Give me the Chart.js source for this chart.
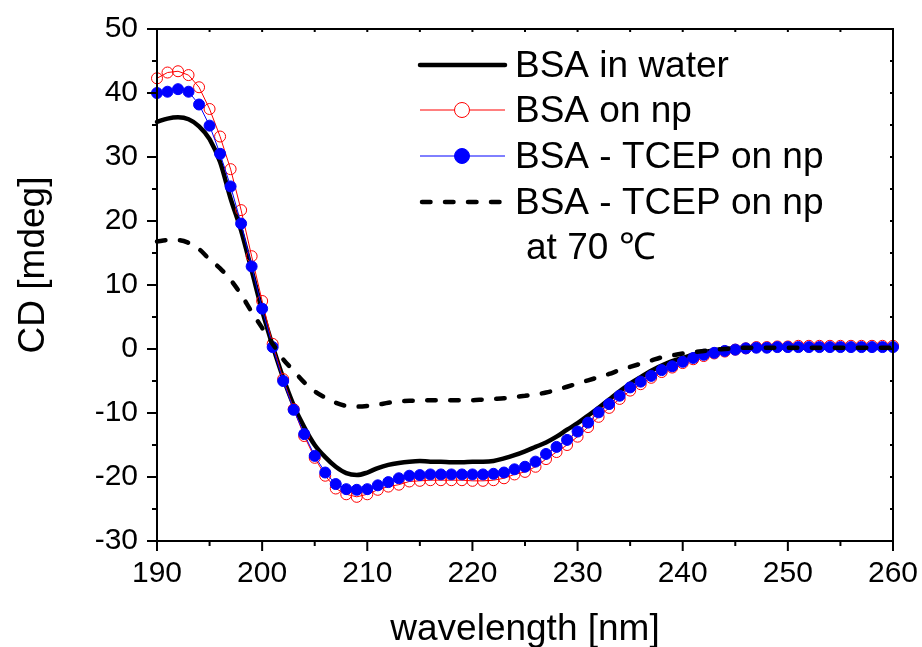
<!DOCTYPE html>
<html>
<head>
<meta charset="utf-8">
<script src="https://cdn.jsdelivr.net/npm/chart.js@4.4.0/dist/chart.umd.min.js"></script>
<style>
  body { margin: 0; background: #fff; }
  canvas { display: block; }
</style>
</head>
<body>
<canvas id="chart" width="922" height="647"></canvas>
<script>
// wavelength in nm, one reading per nm
const wavelength = [];
for (let w = 190; w <= 260; w++) wavelength.push(w);

const waterCD = [35.5, 36.0, 36.2, 35.9, 34.8, 32.8, 29.2, 23.5, 18.5, 12.3,
  6.0, 0.5, -4.5, -8.8, -12.2, -15.0, -16.9, -18.4, -19.4, -19.7,
  -19.3, -18.6, -18.1, -17.8, -17.6, -17.5, -17.6, -17.6, -17.7, -17.7,
  -17.6, -17.6, -17.5, -17.1, -16.6, -16.0, -15.3, -14.6, -13.7, -12.6,
  -11.6, -10.4, -9.2, -7.9, -6.6, -5.4, -4.4, -3.4, -2.6, -1.9,
  -1.4, -0.9, -0.5, -0.2, 0.0, 0.1, 0.2, 0.2, 0.2, 0.2,
  0.2, 0.2, 0.2, 0.2, 0.2, 0.2, 0.2, 0.2, 0.2, 0.2, 0.2];

const npCD = [42.3, 43.2, 43.4, 42.8, 40.9, 37.5, 33.2, 28.1, 21.7, 14.5,
  7.5, 0.8, -4.7, -9.4, -13.6, -17.0, -19.8, -21.8, -22.7, -23.1,
  -22.7, -22.0, -21.5, -21.2, -20.7, -20.6, -20.5, -20.5, -20.5, -20.5,
  -20.6, -20.6, -20.5, -20.2, -19.6, -19.2, -18.4, -17.2, -16.1, -15.0,
  -13.7, -12.2, -10.6, -9.2, -7.8, -6.5, -5.5, -4.5, -3.6, -2.9,
  -2.2, -1.6, -1.1, -0.7, -0.4, -0.1, 0.1, 0.3, 0.3, 0.4,
  0.4, 0.5, 0.5, 0.5, 0.5, 0.5, 0.5, 0.5, 0.5, 0.5, 0.5];

const tcepCD = [40.0, 40.2, 40.6, 40.2, 38.2, 34.9, 30.5, 25.4, 19.6, 12.9,
  6.3, 0.3, -5.0, -9.5, -13.3, -16.7, -19.3, -21.1, -21.9, -22.0,
  -21.9, -21.3, -20.8, -20.2, -19.8, -19.7, -19.6, -19.6, -19.6, -19.6,
  -19.6, -19.6, -19.5, -19.3, -18.8, -18.4, -17.6, -16.4, -15.3, -14.2,
  -12.9, -11.5, -9.9, -8.6, -7.3, -6.0, -5.1, -4.2, -3.3, -2.7,
  -2.0, -1.4, -0.9, -0.6, -0.3, -0.1, 0.1, 0.2, 0.2, 0.3,
  0.3, 0.3, 0.3, 0.3, 0.3, 0.3, 0.3, 0.3, 0.3, 0.3, 0.3];

const hotCD = [16.8, 17.0, 17.0, 16.6, 15.6, 14.0, 12.6, 10.8, 8.5, 5.8,
  3.3, 0.8, -1.6, -3.4, -5.2, -6.6, -7.6, -8.4, -8.9, -9.0,
  -8.9, -8.7, -8.4, -8.2, -8.1, -8.1, -8.0, -8.0, -8.0, -8.0,
  -8.0, -7.9, -7.8, -7.7, -7.5, -7.3, -7.1, -6.8, -6.4, -5.9,
  -5.4, -4.9, -4.4, -3.9, -3.3, -2.8, -2.3, -1.8, -1.3, -1.0,
  -0.7, -0.5, -0.3, -0.1, 0.0, 0.1, 0.2, 0.2, 0.2, 0.2,
  0.2, 0.2, 0.2, 0.2, 0.2, 0.2, 0.2, 0.2, 0.2, 0.2, 0.2];

const seriesNames = ['BSA in water', 'BSA on np', 'BSA - TCEP on np', 'BSA - TCEP on np'];
const xTicks = [190, 200, 210, 220, 230, 240, 250, 260];
const yTicks = [-30, -20, -10, 0, 10, 20, 30, 40, 50];

const FONT = "'Liberation Sans', Arial, sans-serif";

function pts(arr) {
  return wavelength.map((w, i) => ({ x: w, y: arr[i] }));
}

function noPad(s) {
  s.paddingTop = 0; s.paddingBottom = 0; s.paddingLeft = 0; s.paddingRight = 0;
}

// frame, minor/major ticks, axis titles and the legend box
const decor = {
  id: 'decor',
  afterDraw(chart) {
    const ctx = chart.ctx;
    const a = chart.chartArea;
    const xs = chart.scales.x, ys = chart.scales.y;
    ctx.save();
    ctx.strokeStyle = '#000';
    ctx.lineWidth = 2;
    ctx.strokeRect(a.left, a.top, a.right - a.left, a.bottom - a.top);

    ctx.beginPath();
    for (let v = xs.min; v <= xs.max; v += 5) {
      const px = xs.getPixelForValue(v);
      const len = v % 10 === 0 ? 10 : 5;
      ctx.moveTo(px, a.bottom); ctx.lineTo(px, a.bottom + len);
      ctx.moveTo(px, a.top); ctx.lineTo(px, a.top + 3);
    }
    for (let v = ys.min; v <= ys.max; v += 5) {
      const py = ys.getPixelForValue(v);
      const len = v % 10 === 0 ? 10 : 5;
      ctx.moveTo(a.left, py); ctx.lineTo(a.left - len, py);
      ctx.moveTo(a.right, py); ctx.lineTo(a.right - 3, py);
    }
    ctx.stroke();

    ctx.fillStyle = '#000';
    ctx.font = '37px ' + FONT;
    ctx.textAlign = 'center';
    ctx.textBaseline = 'alphabetic';
    ctx.fillText('wavelength [nm]', (a.left + a.right) / 2, 640);
    ctx.save();
    ctx.translate(44, 265);
    ctx.rotate(-Math.PI / 2);
    ctx.fillText('CD [mdeg]', 0, 0);
    ctx.restore();

    // legend
    const ds = chart.data.datasets;
    const rows = [65, 110, 156, 202];
    ctx.textAlign = 'left';
    ctx.textBaseline = 'middle';
    ds.forEach((d, i) => {
      const y = rows[i];
      ctx.save();
      ctx.strokeStyle = d.borderColor;
      ctx.lineWidth = d.borderWidth;
      ctx.lineCap = d.borderCapStyle || 'butt';
      ctx.setLineDash(d.borderDash || []);
      ctx.beginPath();
      ctx.moveTo(i === 3 ? 422 : 420, y);
      ctx.lineTo(i === 3 ? 503 : 505, y);
      ctx.stroke();
      ctx.restore();
      if (d.pointRadius > 0) {
        ctx.beginPath();
        ctx.arc(462, y, 7.5, 0, Math.PI * 2);
        ctx.fillStyle = d.pointBackgroundColor === 'transparent' ? '#fff' : d.pointBackgroundColor;
        ctx.fill();
        ctx.lineWidth = 1;
        ctx.strokeStyle = d.pointBorderColor;
        ctx.stroke();
      }
      ctx.fillStyle = '#000';
      ctx.fillText(d.label, 515, y + 2);
    });
    ctx.fillText('at 70 \u2103', 526, 249);
    ctx.restore();
  }
};

new Chart(document.getElementById('chart'), {
  type: 'line',
  data: {
    datasets: [
      {
        label: seriesNames[0], data: pts(waterCD), order: 4,
        borderColor: '#000', borderWidth: 4.5, pointRadius: 0,
        cubicInterpolationMode: 'monotone', borderCapStyle: 'round', clip: false
      },
      {
        label: seriesNames[1], data: pts(npCD), order: 3,
        borderColor: '#ff0000', borderWidth: 1, pointRadius: 5.5,
        pointBackgroundColor: 'transparent', pointBorderColor: '#ff0000', pointBorderWidth: 1,
        clip: false
      },
      {
        label: seriesNames[2], data: pts(tcepCD), order: 2,
        borderColor: '#0000ff', borderWidth: 1, pointRadius: 5.5,
        pointBackgroundColor: '#0000ff', pointBorderColor: '#0000ff', pointBorderWidth: 1,
        clip: false
      },
      {
        label: seriesNames[3], data: pts(hotCD), order: 1,
        borderColor: '#000', borderWidth: 4.5, pointRadius: 0,
        borderDash: [8.5, 14.5], borderCapStyle: 'round',
        cubicInterpolationMode: 'monotone', clip: false
      }
    ]
  },
  options: {
    responsive: false,
    devicePixelRatio: 1,
    animation: false,
    layout: { padding: { top: 29, right: 29, left: 0, bottom: 0 } },
    plugins: { legend: { display: false }, tooltip: { enabled: false } },
    scales: {
      x: {
        type: 'linear', min: 190, max: 260,
        afterFit: s => { s.height = 106; noPad(s); },
        afterBuildTicks: s => { s.ticks = xTicks.map(v => ({ value: v })); },
        grid: { display: false, drawTicks: false },
        border: { display: false },
        ticks: { color: '#000', font: { size: 30, family: FONT }, padding: 15, maxRotation: 0 }
      },
      y: {
        min: -30, max: 50,
        afterFit: s => { s.width = 157; noPad(s); },
        afterBuildTicks: s => { s.ticks = yTicks.map(v => ({ value: v })); },
        grid: { display: false, drawTicks: false },
        border: { display: false },
        ticks: { color: '#000', font: { size: 30, family: FONT }, padding: 19 }
      }
    }
  },
  plugins: [decor]
});
</script>
</body>
</html>
